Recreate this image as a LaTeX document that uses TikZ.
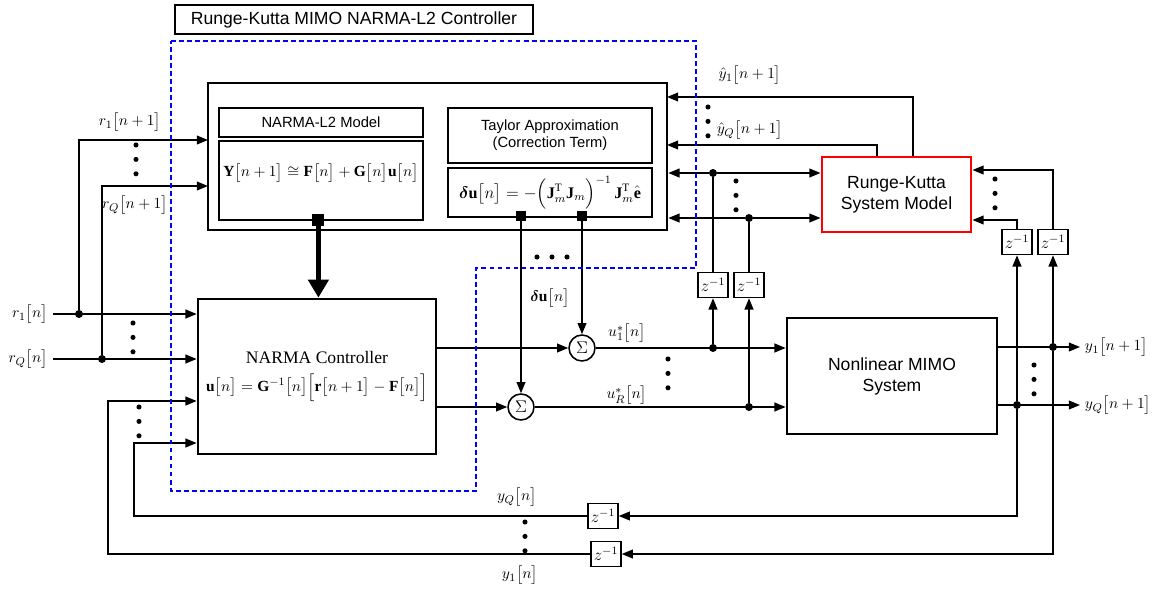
\documentclass[tikz,border=0pt]{standalone}
\usepackage{fontspec}
\setmainfont{Liberation Serif}
\setsansfont{Liberation Sans}
\usepackage{amsmath}
\usepackage{tikz}
\usetikzlibrary{positioning,arrows.meta,calc}

\newcommand{\brk}[1]{\bigl[#1\bigr]}

\begin{document}
\begin{tikzpicture}[
  blk/.style={draw, line width=1.9pt, align=center},
  sub/.style={draw, line width=1.1pt, minimum width=5.1cm, font=\fontsize{10.5}{12}\sffamily, align=center},
  zbox/.style={draw, line width=1pt, minimum width=0.75cm, minimum height=0.63cm, inner sep=0pt, font=\fontsize{11.5}{12}\selectfont},
  sumnode/.style={draw, circle, line width=1.1pt, minimum size=0.65cm, inner sep=0pt, font=\fontsize{11.5}{12}\selectfont},
  port/.style={fill=black, minimum size=0.3cm, inner sep=0pt},
  jdot/.style={circle, fill=black, minimum size=0.2cm, inner sep=0pt},
  lbl/.style={font=\fontsize{11}{13}\selectfont},
  arr/.style={-{Triangle[length=0.28cm,width=0.22cm]}, line width=1.1pt},
  ctrlzone/.style={draw=blue, line width=2pt, dash pattern=on 3.5pt off 2.2pt}
]
\useasboundingbox (0,0) rectangle (28.95,-14.75);

\node[draw, line width=1pt, minimum width=8.95cm, minimum height=0.725cm, font=\fontsize{12.5}{15}\sffamily] (title) at (8.85,-0.49) {Runge-Kutta MIMO NARMA-L2 Controller};

\node[blk, minimum width=11.475cm, minimum height=3.675cm] (mdl) at (10.9375,-3.9125) {};
\node[sub, minimum height=0.725cm] (mhead) at (8.025,-3.0625) {NARMA-L2 Model};
\node[sub, minimum height=1.975cm] (meq) at (8.025,-4.5125) {};
\node[lbl] (meqtxt) at (8.025,-4.325) {$\mathbf{Y}\brk{n+1}\cong\mathbf{F}\brk{n}+\mathbf{G}\brk{n}\mathbf{u}\brk{n}$};
\node[sub, minimum height=1.375cm] (thead) at (13.75,-3.3875) {Taylor Approximation\\(Correction Term)};
\node[sub, minimum height=1.225cm, font=\fontsize{11.5}{13}\selectfont] (teq) at (13.75,-4.8125) {$\boldsymbol{\delta}\mathbf{u}\brk{n}=-\Bigl(\mathbf{J}_m^{\mathrm{T}}\mathbf{J}_m\Bigr)^{-1}\,\mathbf{J}_m^{\mathrm{T}}\hat{\mathbf{e}}$};

\node[blk, minimum width=5.95cm, minimum height=3.875cm] (ctrl) at (7.925,-9.4125) {{\fontsize{12.5}{15}\selectfont NARMA Controller}\\[6pt]
  {\fontsize{11}{13}\selectfont $\mathbf{u}\brk{n}=\mathbf{G}^{-1}\brk{n}\Bigl[\mathbf{r}\brk{n+1}-\mathbf{F}\brk{n}\Bigr]$}};

\node[draw=red, line width=2.1pt, minimum width=3.725cm, minimum height=1.875cm, font=\fontsize{12.5}{15}\sffamily, align=center] (rk) at (22.4125,-4.8625) {Runge-Kutta\\System Model};
\node[blk, minimum width=5.25cm, minimum height=2.9cm, font=\fontsize{12.5}{15}\sffamily] (plant) at (22.3,-9.4) {Nonlinear MIMO\\System};

\node[port] (mport) at (7.96,-5.5) {};
\node[port, minimum size=0.26cm] (tp1) at (13.025,-5.4) {};
\node[port, minimum size=0.26cm] (tp2) at (14.55,-5.4) {};

\node[sumnode] (sum1) at (14.55,-8.7) {$\Sigma$};
\node[sumnode] (sum2) at (13.025,-10.175) {$\Sigma$};

\node[zbox] (zu1) at (17.825,-7.125) {$z^{-1}$};
\node[zbox] (zuR) at (18.725,-7.125) {$z^{-1}$};
\node[zbox] (zA) at (25.425,-6.05) {$z^{-1}$};
\node[zbox] (zB) at (26.325,-6.05) {$z^{-1}$};
\node[zbox] (zb1) at (15.075,-12.9) {$z^{-1}$};
\node[zbox] (zb2) at (15.15,-13.85) {$z^{-1}$};

\node[jdot] (j1) at (1.975,-7.85) {};
\node[jdot] (jq) at (2.55,-8.975) {};
\node[jdot] (ju1) at (17.825,-8.7) {};
\node[jdot] (juR) at (18.725,-10.175) {};
\node[jdot] (jt1) at (17.825,-4.325) {};
\node[jdot] (jt2) at (18.725,-5.45) {};
\node[jdot] (jy1) at (26.325,-8.675) {};
\node[jdot] (jyQ) at (25.425,-10.125) {};

\node[lbl] (r1p) at (3.25,-3.05) {$r_1\brk{n+1}$};
\node[lbl] (rqp) at (3.375,-5.125) {$r_Q\brk{n+1}$};
\node[lbl, anchor=east] (r1n) at (1.32,-7.85) {$r_1\brk{n}$};
\node[lbl, anchor=east] (rqn) at (1.32,-8.975) {$r_Q\brk{n}$};
\node[lbl] (du) at (13.75,-7.45) {$\boldsymbol{\delta}\mathbf{u}\brk{n}$};
\node[lbl] (u1s) at (15.675,-8.325) {$u_1^*\brk{n}$};
\node[lbl] (uRs) at (15.675,-9.875) {$u_R^*\brk{n}$};
\node[lbl] (yh1) at (18.75,-1.875) {$\hat{y}_1\brk{n+1}$};
\node[lbl] (yhq) at (18.75,-3.25) {$\hat{y}_Q\brk{n+1}$};
\node[lbl] (yqn) at (12.925,-12.425) {$y_Q\brk{n}$};
\node[lbl] (y1n) at (13.0,-14.375) {$y_1\brk{n}$};
\node[lbl, anchor=west] (y1o) at (27.0,-8.675) {$y_1\brk{n+1}$};
\node[lbl, anchor=west] (yqo) at (27.0,-10.125) {$y_Q\brk{n+1}$};

\coordinate (rin1) at (5.2,-3.5);
\coordinate (rinq) at (5.2,-4.65);
\coordinate (yhin1) at (16.675,-2.425);
\coordinate (yhinq) at (16.675,-3.625);
\coordinate (fbq) at (3.35,-11.075);
\coordinate (fb1) at (2.7,-10.025);

\draw[arr] (r1n.east) -- (r1n.east -| ctrl.west);
\draw[arr] (rqn.east) -- (rqn.east -| ctrl.west);
\draw[arr] (j1) |- (rin1);
\draw[arr] (jq) |- (rinq);

\draw[-{Triangle[length=0.45cm,width=0.5cm]}, line width=3.5pt] (mport) -- (mport |- ctrl.north);

\draw[arr] (ctrl.east |- sum1) -- (sum1);
\draw[arr] (ctrl.east |- sum2) -- (sum2);
\draw[arr] (tp1) -- (sum2);
\draw[arr] (tp2) -- (sum1);
\draw[arr] (sum1) -- (sum1 -| plant.west);
\draw[arr] (sum2) -- (sum2 -| plant.west);

\draw[arr] (ju1) -- (zu1);
\draw[arr] (juR) -- (zuR);
\draw[line width=1.1pt] (zu1) -- (jt1);
\draw[line width=1.1pt] (zuR) -- (jt2);
\draw[arr] (jt1) -- (jt1 -| mdl.east);
\draw[arr] (jt1) -- (jt1 -| rk.west);
\draw[arr] (jt2) -- (jt2 -| mdl.east);
\draw[arr] (jt2) -- (jt2 -| rk.west);

\draw[arr] (rk.north -| 22.825,0) |- (yhin1);
\draw[arr] (rk.north -| 21.925,0) |- (yhinq);
\draw[arr] (zA) |- (rk.east |- 0,-5.5);
\draw[arr] (zB) |- (rk.east |- 0,-4.25);

\draw[arr] (plant.east |- y1o) -- (y1o.west);
\draw[arr] (plant.east |- yqo) -- (yqo.west);
\draw[arr] (jy1) -- (zB);
\draw[arr] (jyQ) -- (zA);

\draw[arr] (jyQ) |- (zb1.east);
\draw[arr] (zb1.west) -| (fbq) -- (fbq -| ctrl.west);
\draw[arr] (jy1) |- (zb2.east);
\draw[arr] (zb2.west) -| (fb1) -- (fb1 -| ctrl.west);

\foreach \x/\y in {3.4/-3.625, 3.325/-8.075, 3.475/-10.175, 17.7/-2.675, 18.4/-4.525, 24.875/-4.475, 16.7/-8.975, 25.85/-9.125, 13.125/-13.05}
  \foreach \k in {0,1,2}
    \fill (\x,{\y-0.36*\k}) circle (1.8pt);
\foreach \k in {0,1,2}
  \fill ({13.425+0.375*\k},-6.425) circle (1.8pt);

\draw[ctrlzone] (4.275,-1.025) -- (17.4,-1.025) -- (17.4,-6.7) -- (11.9,-6.7) -- (11.9,-12.275) -- (4.275,-12.275) -- cycle;

\end{tikzpicture}
\end{document}
